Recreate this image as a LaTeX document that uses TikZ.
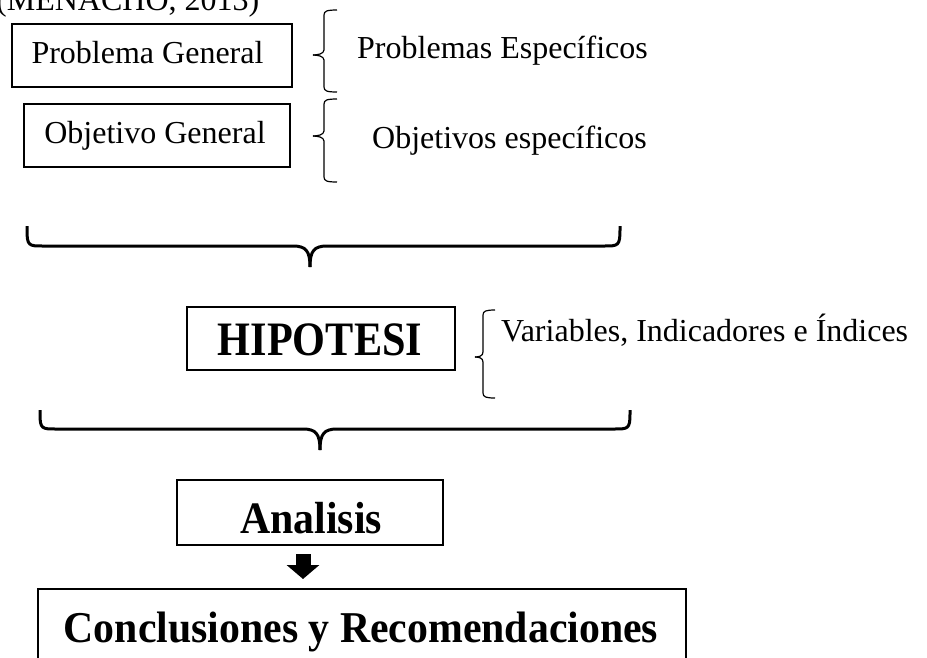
\documentclass[tikz,border=0pt]{standalone}
\usepackage{fontspec}
\usepackage{graphicx}
\setmainfont{Liberation Serif}
\usetikzlibrary{arrows.meta}
\newcommand{\regfont}{\fontsize{32}{38}\selectfont}
\newcommand{\smallbrace}[6]{% xh xv xt ytop ytip ybot
 \draw[sbr] ({#1},{-(#4)}) .. controls ({#2+3},{-(#4)}) and ({#2},{-(#4)-1}) .. ({#2},{-(#4)-5})
   -- ({#2},{-(#5)+5}) .. controls ({#2},{-(#5)+1}) and ({#3+4},{-(#5)}) .. ({#3},{-(#5)});
 \draw[sbr] ({#3},{-(#5)}) .. controls ({#3+4},{-(#5)}) and ({#2},{-(#5)-1}) .. ({#2},{-(#5)-5})
   -- ({#2},{-(#6)+5}) .. controls ({#2},{-(#6)+1}) and ({#2+3},{-(#6)}) .. ({#1},{-(#6)});
}
\newcommand{\bigbrace}[6]{% xleft xtip xright ytop yline ytipbottom
 \draw[bbr] ({#1},{-(#4)}) -- ({#1},{-(#4)-4}) .. controls ({#1},{-(#5)}) and ({#1+2},{-(#5)}) .. ({#1+16},{-(#5)})
   -- ({#2-17},{-(#5)}) .. controls ({#2-4},{-(#5)}) and ({#2},{-(#5)-5}) .. ({#2},{-(#6)});
 \draw[bbr] ({#2},{-(#6)}) .. controls ({#2},{-(#5)-5}) and ({#2+4},{-(#5)}) .. ({#2+17},{-(#5)})
   -- ({#3-16},{-(#5)}) .. controls ({#3-2},{-(#5)}) and ({#3},{-(#5)}) .. ({#3},{-(#4)-4}) -- ({#3},{-(#4)});
}
\tikzset{
  thinbox/.style={draw=black, line width=1.3pt, inner sep=0pt, minimum width=#1},
  thickbox/.style={draw=black, line width=2pt, inner sep=0pt, minimum width=#1},
  txt/.style={anchor=base, inner sep=0pt, font=\regfont},
  sbr/.style={draw=black, line width=1.2pt},
  bbr/.style={draw=black, line width=3pt},
  blockarrow/.style={draw=black, line width=15pt, -{Triangle[length=14pt, width=32pt]}}
}
\begin{document}
\begin{tikzpicture}[x=1pt, y=1pt]
\useasboundingbox (0,0) rectangle (927,-657);
\clip (0,0) rectangle (927,-657);
% source line (cut at the top, as in the reference)
\node (src) [txt, anchor=base west] at (-4,-10) {(MENACHO, 2013)};
% top boxes
\node (pgbox) [thinbox=280pt, minimum height=63pt] at (152,-55.5) {};
\node (pgtxt) [txt] at (147.5,-63) {Problema General};
\node (ogbox) [thinbox=266pt, minimum height=63pt] at (157,-135.5) {};
\node (ogtxt) [txt] at (155,-143) {Objetivo General};
% small braces
\smallbrace{337}{324}{313}{10}{55}{92}
\smallbrace{337}{324}{313}{99}{136}{182}
\node (pe) [txt, anchor=base west] at (357,-58) {Problemas Específicos};
\node (oe) [txt, anchor=base west] at (372,-148) {Objetivos específicos};
% first big brace
\bigbrace{27}{310}{620}{226}{246}{267}
% hypothesis
\node (hipbox) [thickbox=268pt, minimum height=63pt] at (321,-338.5) {};
\node (hiptxt) [anchor=base, inner sep=0pt] at (320,-355) {\scalebox{0.88}[1]{\fontsize{48}{54}\selectfont\bfseries HIPOTESI}};
\smallbrace{495}{483}{475}{310}{357}{398}
\node (var) [txt, anchor=base west] at (501,-341) {Variables, Indicadores e Índices};
% second big brace
\bigbrace{40}{320}{630}{410}{429}{450}
% analysis
\node (ana) [thickbox=266pt, minimum height=65pt] at (310,-512.5) {};
\node (anatxt) [anchor=base, inner sep=0pt] at (311,-533) {\scalebox{0.93}[1]{\fontsize{45}{50}\selectfont\bfseries Analisis}};
\coordinate (arrS) at (303,-554);
\coordinate (arrE) at (303,-579);
\draw[blockarrow] (arrS) -- (arrE);
% conclusions
\node (conc) [thickbox=648pt, minimum height=77pt] at (362,-627.5) {};
\node (conctxt) [anchor=base, inner sep=0pt] at (361,-642) {\scalebox{0.95}[1]{\fontsize{44}{50}\selectfont\bfseries Conclusiones y Recomendaciones}};
\end{tikzpicture}
\end{document}
